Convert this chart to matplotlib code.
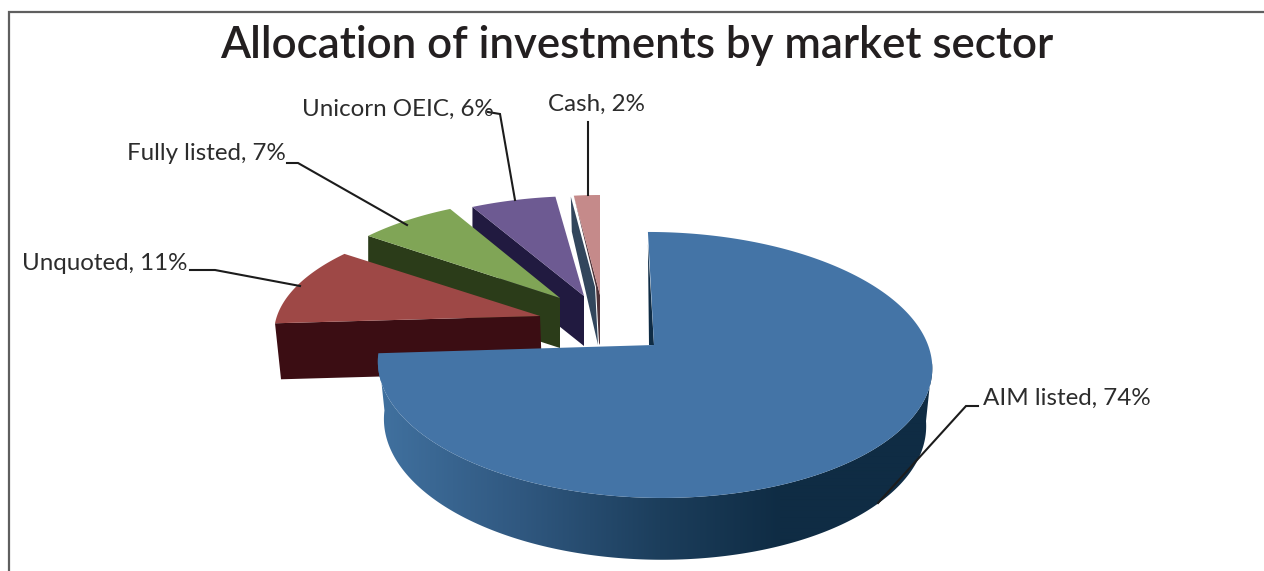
import numpy as np
import matplotlib
matplotlib.use("Agg")
import matplotlib.pyplot as plt
from matplotlib.patches import Polygon

categories = ["AIM listed", "Unquoted", "Fully listed", "Unicorn OEIC", "Cash"]
values = [74, 11, 7, 6, 2]
title = "Allocation of investments by market sector"

top_colors = ["#4474a6", "#9e4846", "#80a556", "#6d5a92", "#c58a8a"]
wall_colors = [None, "#3b0d13", "#2b3c19", "#211a40", "#4f3238"]
apex = [(654, 345), (540, 316), (560, 298), (584, 296), (600, 295)]
rx = [274, 263, 258, 262, 240]
ry = [130, 115, 115, 115, 115]
depth = [57, 56, 50, 50, 50]
shear = [7, 0, 0, 0, 0]
KP = 0.15

label_pos = [(983, 398), (22, 263), (127, 154), (302, 109), (548, 104)]
leaders = [
    [(978, 406), (966, 406), (878, 503)],
    [(190, 270), (215, 270), (300, 286)],
    [(287, 163), (298, 163), (407, 225)],
    [(488, 112), (500, 114), (515, 200)],
    [(588, 122), (588, 195)],
]

fig = plt.figure(figsize=(12.64, 5.71), dpi=100)
ax = fig.add_axes([0, 0, 1, 1])
ax.axis("off")


def project(i, theta, dz=0.0):
    """Angle clockwise from 12 o'clock -> picture position for slice i."""
    X, Y = np.sin(theta), -np.cos(theta)
    s = 1 / (1 - KP * Y)
    sh = 1 - 0.022 * (dz > 0)
    x = apex[i][0] + (rx[i] * X + shear[i] * Y) * s * sh
    y = apex[i][1] + ry[i] * Y * s + dz * s ** 0.5
    return x, y


def arc(i, a, b, dz=0.0, n=120):
    t = np.linspace(a, b, n)
    return np.column_stack(project(i, t, dz))


edges = np.radians(np.cumsum([0] + values) * 3.6)

# frame
ax.plot([9, 9, 1264], [571, 12, 12], color="#5f5f5f", lw=1.6, solid_joinstyle="miter", zorder=1)

# slices drawn back to front: cash first, AIM listed last
for i in range(len(values) - 1, 0, -1):
    a, b = edges[i], edges[i + 1]
    ax_pt = np.array(apex[i], float)
    outer = np.array(project(i, a))
    d = depth[i]
    if i == 4:
        ax.add_patch(Polygon([outer + (-3, 1), ax_pt + (-5, -8), ax_pt + (-2, d), outer + (-2, 36)],
                             fc="#32465c", ec="none", zorder=2 + 5 - i))
        ax.add_patch(Polygon([outer, ax_pt, ax_pt + (0, d), ax_pt + (-1, d - 2), ax_pt + (-4, -8)],
                             fc=wall_colors[i], ec="none", zorder=2 + 5 - i))
    else:
        ax.add_patch(Polygon([outer, ax_pt, ax_pt + (2 if i == 1 else 0, d), outer + (6 if i == 1 else 0, d)],
                             fc=wall_colors[i], ec="none", zorder=2 + 5 - i))
    pts = np.vstack([ax_pt[None], arc(i, a, b)])
    ax.add_patch(Polygon(pts, fc=top_colors[i], ec="none", zorder=2.5 + 5 - i))

# AIM listed outer wall with a left-to-right shading
top = arc(0, np.radians(98), edges[1], n=300)
bot = arc(0, np.radians(98), edges[1], dz=depth[0], n=300)
wall = Polygon(np.vstack([top, bot[::-1]]), fc="none", ec="none", transform=ax.transData, zorder=10)
ax.add_patch(wall)
stops_x = [385, 520, 660, 780, 930]
stops_c = np.array([[64, 112, 158], [48, 88, 128], [28, 62, 92], [15, 44, 68], [15, 44, 68]]) / 255
gx = np.linspace(370, 940, 570)
grad = np.column_stack([np.interp(gx, stops_x, stops_c[:, k]) for k in range(3)])[None, :, :]
im = ax.imshow(grad, extent=(370, 940, 571, 340), aspect="auto", zorder=10, interpolation="bilinear")
im.set_clip_path(wall)

# AIM listed inner wall and top
p0 = np.array(apex[0], float)
start = np.array(project(0, edges[0]))
ax.add_patch(Polygon([start + (0, 12), p0, p0 + (-5, 0)], fc="#0f2c45", ec="none", zorder=10.5))
ax.add_patch(Polygon(np.vstack([p0[None], arc(0, edges[0], edges[1], n=400)]),
                     fc=top_colors[0], ec="none", zorder=11))

# labels and leader lines
for name, v, pos, line in zip(categories, values, label_pos, leaders):
    ax.text(pos[0], pos[1], f"{name}, {v}%", fontsize=17.4, family="Lato", color="#2c2c2c",
            va="center", ha="left", zorder=13)
    xs, ys = zip(*line)
    ax.plot(xs, ys, color="#1c1c1c", lw=1.5, zorder=12, solid_joinstyle="miter")

ax.text(637, 45, title, fontsize=31.6, family="Lato", fontweight="semibold", color="#231f20",
        ha="center", va="center", zorder=13)

ax.set_xlim(0, 1264)
ax.set_ylim(571, 0)
fig.savefig("out.png", dpi=100)
